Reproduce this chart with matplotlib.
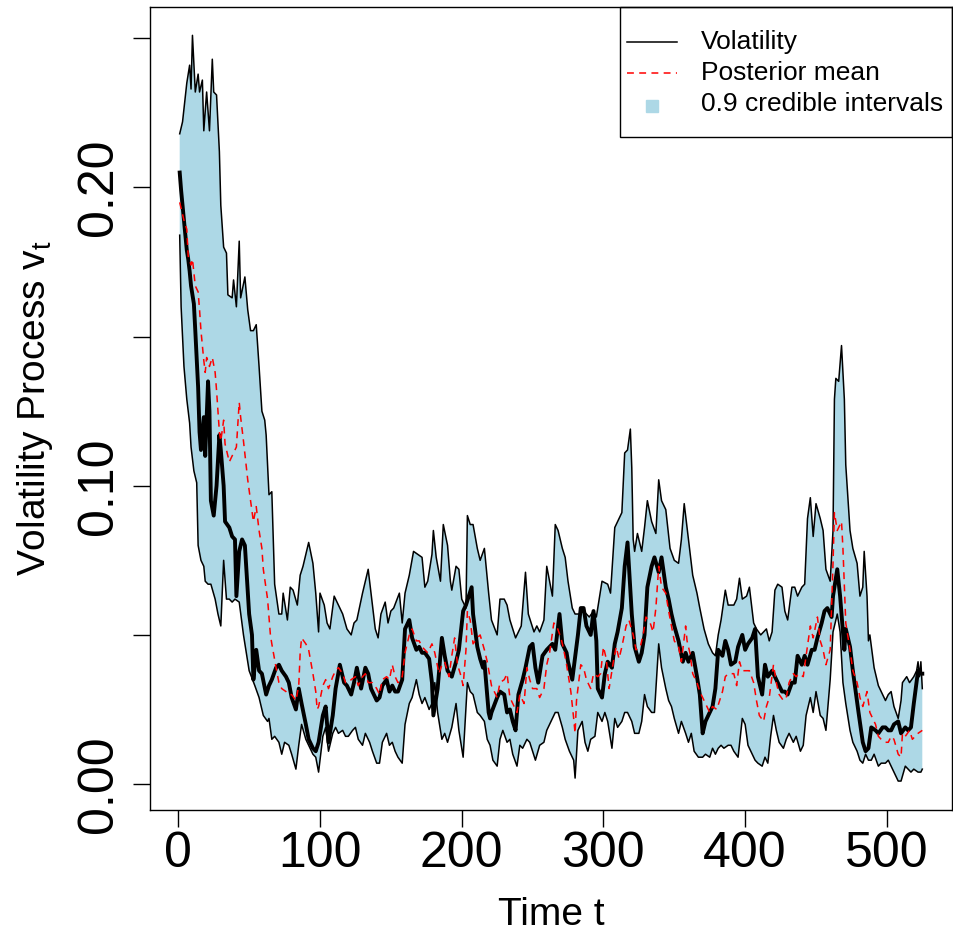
import numpy as np
import matplotlib
matplotlib.use('Agg')
import matplotlib.pyplot as plt
from matplotlib.patches import Rectangle
from matplotlib.lines import Line2D

# (time, value) pairs
upper_pts = [(1,.218),(3,.222),(6,.235),(8,.241),(9,.233),(10,.251),(12,.232),(14,.238),(15,.232),(17,.236),
    (18,.219),(20,.232),(22,.219),(24,.243),(25,.232),(27,.231),(29,.212),(30,.194),(32,.180),(34,.178),
    (35,.164),(38,.163),(39,.169),(41,.160),(43,.182),(44,.163),(47,.170),(49,.159),(51,.152),(53,.152),
    (55,.154),(57,.140),(59,.125),(61,.122),(62,.117),(64,.097),(66,.098),(68,.067),(71,.057),(73,.057),
    (74,.064),(77,.055),(79,.066),(81,.065),(84,.060),(86,.070),(88,.073),(92,.081),(95,.074),(97,.064),
    (99,.051),(100,.064),(103,.060),(105,.054),(107,.052),(110,.063),(113,.060),(116,.057),(119,.052),(122,.050),
    (124,.054),(126,.055),(130,.064),(134,.072),(136,.064),(139,.052),(141,.049),(143,.057),(146,.061),(148,.054),
    (150,.058),(152,.059),(156,.064),(158,.054),(160,.064),(163,.070),(166,.078),(169,.077),(172,.076),(174,.066),
    (176,.068),(179,.077),(180,.085),(182,.076),(185,.068),(187,.087),(190,.080),(192,.068),(193,.065),(196,.073),
    (198,.072),(200,.062),(203,.059),(204,.090),(206,.087),(208,.087),(211,.079),(213,.075),(216,.079),(219,.064),
    (221,.055),(225,.050),(227,.062),(230,.062),(232,.060),(234,.055),(238,.049),(240,.051),(242,.053),(245,.071),
    (247,.057),(251,.051),(253,.053),(255,.051),(258,.055),(260,.073),(264,.063),(266,.087),(268,.085),(271,.079),
    (273,.076),(275,.068),(278,.059),(280,.057),(283,.057),(286,.058),(290,.056),(293,.058),(295,.056),(297,.062),
    (299,.068),(303,.067),(305,.064),(308,.086),(310,.088),(313,.091),(315,.111),(317,.112),(319,.119),(320,.106),
    (321,.082),(322,.078),(324,.084),(327,.078),(329,.086),(331,.095),(334,.088),(337,.084),(339,.102),(341,.095),
    (344,.092),(347,.079),(350,.075),(353,.074),(355,.082),(357,.094),(360,.082),(363,.070),(366,.064),(368,.059),
    (371,.052),(374,.047),(377,.044),(379,.043),(381,.050),(383,.055),(386,.065),(388,.060),(392,.060),(394,.062),
    (396,.069),(398,.062),(401,.063),(403,.066),(406,.054),(408,.052),(411,.050),(413,.051),(415,.052),(417,.048),
    (419,.051),(421,.065),(423,.067),(426,.066),(428,.058),(430,.055),(433,.066),(435,.066),(437,.063),(440,.066),
    (442,.067),(444,.089),(446,.096),(448,.083),(450,.094),(453,.089),(455,.085),(457,.072),(460,.068),(462,.085),
    (463,.129),(464,.136),(466,.135),(468,.147),(470,.129),(471,.107),(474,.085),(476,.079),(479,.074),(481,.063),
    (483,.066),(484,.078),(486,.063),(487,.048),(488,.050),(491,.039),(493,.035),(494,.033),(497,.030),(499,.028),
    (501,.030),(503,.031),(505,.026),(508,.022),(510,.028),(511,.034),(514,.036),(516,.034),(519,.036),(521,.038),
    (522,.041),(523,.036),(524,.041),(525,.032)]

lower_pts = [(1,.184),(2,.160),(4,.140),(6,.129),(8,.121),(9,.113),(11,.105),(13,.101),(14,.080),(16,.075),
    (18,.073),(19,.068),(21,.067),(23,.067),(26,.062),(28,.057),(30,.053),(32,.075),(34,.062),(36,.062),
    (38,.061),(40,.062),(43,.061),(46,.050),(50,.038),(54,.033),(57,.029),(60,.023),(63,.021),(64,.022),
    (66,.015),(68,.016),(71,.014),(73,.010),(75,.014),(78,.013),(80,.010),(83,.005),(85,.013),(87,.020),
    (90,.015),(92,.013),(95,.010),(97,.009),(99,.004),(102,.016),(104,.019),(106,.011),(109,.017),(111,.019),
    (113,.017),(116,.018),(118,.016),(120,.016),(123,.018),(125,.019),(127,.015),(130,.013),(132,.017),(135,.014),
    (137,.011),(140,.007),(142,.007),(144,.014),(147,.017),(149,.013),(151,.014),(153,.011),(155,.009),(158,.007),
    (160,.020),(163,.027),(165,.029),(168,.035),(170,.030),(172,.027),(174,.029),(177,.025),(179,.027),(181,.034),
    (183,.024),(186,.015),(188,.017),(190,.014),(193,.019),(196,.027),(198,.018),(201,.009),(204,.034),(206,.031),
    (208,.030),(211,.024),(213,.023),(216,.021),(218,.015),(220,.013),(222,.008),(225,.006),(227,.015),(229,.018),
    (232,.014),(234,.015),(236,.010),(239,.006),(241,.013),(243,.012),(246,.015),(248,.014),(252,.008),(255,.013),
    (258,.014),(260,.018),(263,.021),(266,.024),(268,.024),(271,.019),(273,.015),(276,.011),(279,.008),(280,.002),
    (282,.018),(285,.021),(287,.014),(289,.011),(291,.015),(294,.016),(296,.024),(299,.021),(301,.024),(303,.021),
    (306,.012),(308,.022),(310,.019),(313,.021),(315,.024),(317,.024),(320,.021),(322,.017),(325,.017),(327,.021),
    (329,.030),(331,.026),(334,.024),(336,.024),(339,.047),(341,.039),(344,.032),(346,.028),(348,.026),(350,.022),
    (353,.017),(355,.021),(358,.017),(360,.014),(362,.017),(364,.011),(367,.009),(370,.009),(372,.010),(375,.009),
    (377,.012),(379,.010),(381,.012),(383,.013),(385,.012),(388,.013),(390,.013),(392,.011),(395,.009),(398,.022),
    (400,.020),(402,.013),(405,.010),(407,.008),(409,.007),(412,.006),(414,.009),(416,.007),(418,.016),(420,.023),
    (422,.018),(424,.014),(427,.012),(429,.015),(431,.017),(434,.014),(436,.016),(439,.011),(441,.013),(443,.023),
    (446,.029),(448,.024),(450,.031),(453,.023),(455,.022),(457,.018),(460,.035),(462,.051),(465,.057),(467,.051),
    (469,.034),(471,.027),(474,.018),(476,.014),(479,.011),(481,.008),(483,.007),(485,.010),(487,.008),(489,.008),
    (491,.010),(494,.006),(496,.007),(499,.007),(501,.008),(503,.006),(505,.004),(508,.001),(510,.001),(513,.006),
    (515,.005),(517,.004),(519,.005),(522,.004),(524,.004),(525,.005)]

volatility_pts = [(1,.205),(2,.199),(4,.189),(6,.179),(7,.176),(8,.172),(9,.167),(11,.161),(12,.152),(14,.133),
    (15,.118),(16,.112),(18,.123),(19,.110),(21,.135),(22,.125),(23,.095),(25,.090),(27,.100),(29,.117),
    (30,.112),(32,.100),(33,.088),(36,.086),(38,.083),(40,.082),(41,.063),(43,.078),(45,.082),(47,.080),
    (50,.057),(52,.050),(53,.035),(55,.045),(57,.038),(59,.037),(62,.030),(64,.033),(66,.035),(69,.039),
    (71,.040),(73,.038),(76,.036),(78,.034),(80,.029),(83,.025),(85,.032),(87,.027),(90,.020),(92,.015),
    (95,.012),(97,.011),(99,.014),(102,.023),(104,.026),(106,.014),(109,.023),(111,.032),(114,.040),(117,.034),
    (119,.033),(122,.030),(124,.034),(126,.039),(129,.032),(132,.039),(134,.037),(136,.032),(140,.028),(142,.029),
    (144,.033),(147,.035),(149,.031),(151,.033),(153,.031),(155,.031),(158,.035),(160,.052),(163,.055),(165,.049),
    (168,.045),(170,.046),(172,.044),(174,.044),(177,.042),(179,.034),(180,.023),(183,.032),(186,.049),(188,.043),
    (190,.038),(193,.036),(196,.041),(198,.045),(201,.058),(203,.060),(205,.063),(207,.066),(208,.057),(211,.046),
    (213,.042),(215,.039),(216,.041),(219,.024),(220,.022),(221,.024),(225,.029),(227,.031),(230,.030),(232,.024),
    (234,.025),(236,.021),(238,.018),(240,.030),(243,.035),(245,.039),(248,.046),(250,.047),(252,.039),(254,.034),
    (257,.043),(260,.045),(264,.047),(266,.045),(269,.057),(271,.047),(274,.044),(275,.041),(278,.035),(282,.050),
    (284,.059),(286,.059),(288,.053),(291,.050),(293,.058),(295,.048),(296,.032),(299,.029),(301,.037),(303,.041),
    (306,.039),(308,.047),(310,.051),(313,.059),(315,.073),(317,.081),(318,.073),(320,.057),(322,.046),(325,.041),
    (327,.044),(329,.050),(331,.066),(334,.073),(336,.076),(339,.071),(341,.076),(344,.066),(346,.062),(348,.057),
    (350,.053),(353,.048),(356,.041),(358,.044),(360,.041),(363,.044),(366,.036),(368,.030),(370,.017),(372,.021),
    (375,.024),(377,.026),(379,.032),(381,.045),(384,.043),(386,.048),(388,.045),(390,.040),(393,.041),(395,.046),
    (398,.050),(400,.045),(402,.047),(405,.049),(407,.052),(409,.036),(412,.030),(414,.040),(416,.036),(419,.038),
    (421,.036),(423,.034),(426,.031),(428,.031),(430,.030),(433,.034),(435,.034),(437,.043),(440,.040),(442,.043),
    (444,.040),(447,.045),(449,.045),(451,.049),(454,.054),(456,.058),(458,.059),(461,.056),(462,.063),(465,.072),
    (467,.063),(470,.045),(471,.052),(474,.046),(476,.038),(478,.031),(480,.024),(483,.014),(485,.011),(487,.012),
    (489,.019),(492,.018),(494,.017),(497,.019),(499,.019),(501,.018),(503,.018),(505,.020),(508,.021),(510,.017),
    (513,.019),(515,.018),(517,.019),(519,.027),(522,.038),(524,.037),(525,.037)]

mean_pts = [(1,.195),(4,.189),(6,.186),(7,.177),(9,.174),(10,.176),(12,.167),(14,.165),(15,.159),(16,.152),
    (18,.142),(19,.138),(20,.143),(22,.140),(24,.143),(26,.138),(27,.132),(29,.118),(30,.115),(32,.122),
    (33,.114),(36,.108),(38,.110),(40,.112),(41,.113),(43,.128),(44,.123),(46,.115),(49,.102),(51,.095),
    (53,.088),(55,.093),(57,.085),(59,.079),(60,.072),(63,.062),(65,.050),(66,.047),(69,.039),(71,.034),
    (73,.032),(76,.031),(78,.030),(80,.030),(83,.028),(85,.033),(86,.044),(87,.049),(90,.047),(92,.045),
    (95,.037),(97,.031),(98,.025),(99,.026),(102,.033),(104,.035),(106,.032),(109,.036),(111,.038),(113,.039),
    (116,.037),(118,.034),(120,.034),(122,.035),(125,.036),(127,.033),(130,.036),(132,.037),(134,.034),(137,.034),
    (140,.032),(142,.030),(144,.035),(147,.036),(149,.035),(151,.040),(153,.036),(155,.034),(158,.036),(160,.044),
    (163,.050),(165,.052),(168,.048),(170,.048),(172,.046),(174,.045),(176,.044),(179,.047),(181,.044),(184,.037),
    (186,.040),(188,.041),(191,.036),(193,.043),(195,.049),(197,.040),(199,.037),(201,.033),(203,.045),(204,.058),
    (206,.055),(208,.047),(211,.049),(213,.050),(216,.045),(218,.041),(221,.033),(223,.031),(225,.029),(227,.034),
    (230,.035),(232,.037),(234,.029),(236,.027),(239,.024),(241,.030),(244,.027),(246,.039),(248,.035),(250,.032),
    (253,.032),(255,.029),(258,.032),(260,.040),(262,.044),(265,.054),(267,.053),(270,.049),(272,.045),(274,.040),
    (277,.031),(279,.022),(280,.017),(281,.028),(284,.040),(286,.039),(288,.035),(291,.032),(293,.037),(296,.036),
    (298,.037),(300,.046),(302,.042),(304,.032),(307,.041),(309,.046),(311,.042),(313,.046),(316,.053),(318,.055),
    (321,.050),(323,.045),(326,.046),(328,.050),(330,.056),(333,.054),(335,.051),(337,.059),(339,.073),(341,.066),
    (344,.064),(346,.058),(348,.053),(350,.048),(353,.046),(355,.041),(358,.053),(359,.048),(361,.044),(363,.037),
    (366,.034),(368,.031),(370,.029),(373,.026),(375,.024),(377,.026),(380,.025),(382,.028),(384,.031),(386,.036),
    (388,.037),(392,.037),(394,.033),(396,.041),(398,.038),(401,.038),(403,.038),(406,.034),(408,.028),(410,.023),
    (413,.021),(415,.026),(417,.029),(420,.040),(422,.034),(424,.030),(427,.028),(429,.029),(431,.034),(434,.037),
    (436,.036),(438,.037),(441,.036),(443,.043),(446,.053),(448,.049),(451,.056),(453,.048),(455,.045),(457,.040),
    (460,.045),(462,.074),(463,.091),(465,.085),(468,.088),(469,.079),(471,.054),(474,.045),(476,.038),(479,.034),
    (481,.029),(483,.026),(486,.031),(488,.024),(490,.022),(492,.020),(494,.016),(496,.015),(499,.014),(501,.014),
    (503,.016),(505,.015),(508,.010),(510,.009),(511,.017),(513,.016),(516,.018),(518,.015),(520,.016),(522,.017),
    (525,.018)]

x_ticks = [0, 100, 200, 300, 400, 500]
y_ticks = [0.00, 0.05, 0.10, 0.15, 0.20, 0.25]
y_tick_labels = ['0.00', '', '0.10', '', '0.20', '']
legend_labels = ['Volatility', 'Posterior mean', '0.9 credible intervals']

plt.rcParams['font.family'] = ['Liberation Sans', 'DejaVu Sans']
plt.rcParams['mathtext.fontset'] = 'custom'
plt.rcParams['mathtext.rm'] = 'Liberation Sans'

up_t, up_v = map(np.array, zip(*upper_pts))
lo_t, lo_v = map(np.array, zip(*lower_pts))
vol_t, vol_v = map(np.array, zip(*volatility_pts))
mean_t, mean_v = map(np.array, zip(*mean_pts))

W, H = 954, 942
fig = plt.figure(figsize=(W / 100, H / 100), dpi=100)
ax = fig.add_axes([150 / W, 1 - 810 / H, 802 / W, 803 / H])

# credible band as one polygon: upper trace then lower trace reversed
ax.fill(np.r_[up_t, lo_t[::-1]], np.r_[up_v, lo_v[::-1]], color='lightblue', lw=0)
ax.plot(up_t, up_v, color='black', lw=1.1)
ax.plot(lo_t, lo_v, color='black', lw=1.1)
ax.plot(vol_t, vol_v, color='black', lw=2.8)
ax.plot(mean_t, mean_v, color='red', lw=1.1, dashes=(4.5, 3.5))

ax.set_xlim(-19.96, 545.96)
ax.set_ylim(-0.0087, 0.2605)
ax.set_xticks(x_ticks)
ax.set_yticks(y_ticks)
ax.set_yticklabels(y_tick_labels)
ax.tick_params(direction='out', length=12, width=1.0, labelsize=36)
ax.tick_params(axis='x', pad=3)
ax.tick_params(axis='y', pad=8, labelrotation=90)
for lab in ax.get_yticklabels():
    lab.set_va('center')
for s in ax.spines.values():
    s.set_linewidth(1.0)

ax.set_xlabel('Time t', fontsize=28)
ax.xaxis.set_label_coords(0.5, -0.108)
ax.set_ylabel(r'Volatility Process $\mathrm{v}_\mathrm{t}$', fontsize=28)
ax.yaxis.set_label_coords(-0.118, 0.5)

# legend box drawn by hand, pixel positions from the reference
def fx(x):
    return x / W

def fy(y):
    return 1 - y / H

fig.add_artist(Rectangle((fx(620), fy(137)), 332 / W, 130 / H, transform=fig.transFigure,
                         fill=False, edgecolor='black', lw=1.0))
fig.add_artist(Line2D([fx(627), fx(677)], [fy(42), fy(42)], color='black', lw=1.1,
                      transform=fig.transFigure))
fig.add_artist(Line2D([fx(627), fx(677)], [fy(73), fy(73)], color='red', lw=1.1, dashes=(4.5, 3.5),
                      transform=fig.transFigure))
fig.add_artist(Line2D([fx(652.5)], [fy(105.5)], marker='s', markersize=9, color='lightblue',
                      ls='none', transform=fig.transFigure))
for lab, yy in zip(legend_labels, [42, 73, 104]):
    fig.text(fx(701), fy(yy), lab, fontsize=19, ha='left', va='center')

fig.savefig('out.png', dpi=100)
